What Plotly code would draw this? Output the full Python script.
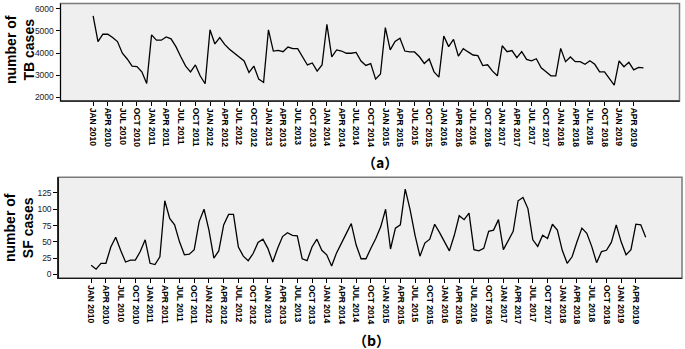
import plotly.graph_objects as go

W, H = 685, 349

# ---------------- data ----------------
month_names = ["JAN", "FEB", "MAR", "APR", "MAY", "JUN", "JUL", "AUG", "SEP", "OCT", "NOV", "DEC"]
years = list(range(2010, 2020))
months = [f"{m} {y}" for y in years for m in month_names][:114]   # Jan 2010 .. Jun 2019

tb_cases = [5680, 4520, 4850, 4850, 4700, 4520, 3990, 3730, 3410, 3390, 3150, 2620,
            4820, 4580, 4580, 4730, 4640, 4290, 3830, 3410, 3150, 3460, 2960, 2610,
            5050, 4410, 4700, 4390, 4170, 3990, 3830, 3640, 3120, 3410, 2820, 2670,
            5050, 4090, 4120, 4060, 4270, 4200, 4200, 3830, 3460, 3550, 3180, 3460,
            5300, 3830, 4140, 4090, 3990, 3990, 4030, 3640, 3440, 3520, 2820, 3050,
            5150, 4140, 4520, 4670, 4090, 4050, 4050, 3830, 3530, 3730, 3150, 2910,
            4770, 4290, 4620, 3860, 4200, 4050, 3910, 3880, 3430, 3470, 3180, 2970,
            4330, 4060, 4110, 3790, 4060, 3710, 3650, 3740, 3330, 3150, 2970, 2970,
            4210, 3610, 3820, 3610, 3610, 3490, 3650, 3490, 3150, 3150, 2850, 2550,
            3640, 3380, 3580, 3240, 3350, 3330]

sf_cases = [14, 8, 17, 17, 42, 57, 37, 19, 22, 22, 35, 53,
            17, 15, 27, 113, 86, 76, 50, 30, 31, 38, 81, 100,
            68, 25, 36, 76, 92, 92, 42, 28, 21, 32, 49, 54,
            40, 19, 40, 58, 64, 60, 59, 24, 21, 42, 54, 37,
            30, 13, 33, 49, 63, 78, 45, 24, 24, 40, 55, 73,
            100, 39, 71, 76, 131, 99, 60, 28, 48, 54, 77, 64,
            50, 36, 60, 90, 84, 94, 38, 36, 40, 66, 68, 84,
            38, 53, 66, 113, 118, 101, 53, 43, 60, 55, 77, 68,
            37, 17, 27, 50, 71, 63, 43, 18, 35, 37, 49, 76,
            50, 30, 38, 77, 76, 57]

tick_labels = months[::3]                      # JAN 2010, APR 2010, ... APR 2019
tb_ticks = [2000, 3000, 4000, 5000, 6000]
sf_ticks = [0, 25, 50, 75, 100, 125]

idx = list(range(len(months)))
tick_idx = idx[::3]

# ---------------- figure ----------------
def px_x(p):
    return p / W

def px_y(p):
    return 1 - p / H

fig = go.Figure()
fig.add_trace(go.Scatter(x=idx, y=tb_cases, mode="lines", text=months,
                         line=dict(color="black", width=1.3),
                         xaxis="x", yaxis="y", showlegend=False))
fig.add_trace(go.Scatter(x=idx, y=sf_cases, mode="lines", text=months,
                         line=dict(color="black", width=1.3),
                         xaxis="x2", yaxis="y2", showlegend=False))

xcommon = dict(range=[-6.7, 120.4], tickmode="array", tickvals=tick_idx, ticktext=tick_labels,
               tickangle=90, ticks="outside", ticklen=4, tickcolor="black", tickwidth=1,
               tickfont=dict(family="Liberation Sans", size=8.5, color="black", weight="bold"),
               showgrid=False, zeroline=False, showline=True, linecolor="black", linewidth=1,
               automargin=False)
ycommon = dict(ticks="outside", ticklen=4, tickcolor="black", tickwidth=1,
               tickfont=dict(family="Liberation Sans", size=8.5, color="#222"),
               showgrid=False, zeroline=False, showline=True, linecolor="black", linewidth=1,
               automargin=False)

fig.update_layout(
    width=W, height=H,
    margin=dict(l=0, r=0, t=0, b=0, autoexpand=False),
    paper_bgcolor="white",
    plot_bgcolor="#efefef",
    xaxis=dict(domain=[px_x(60.5), px_x(679.5)], anchor="y", **xcommon),
    yaxis=dict(domain=[px_y(101), px_y(3.5)], anchor="x", range=[1830, 6240],
               tickvals=tb_ticks, **ycommon),
    xaxis2=dict(domain=[px_x(58.3), px_x(682)], anchor="y2", **xcommon),
    yaxis2=dict(domain=[px_y(278.3), px_y(177.3)], anchor="x2", range=[-6, 149],
                tickvals=sf_ticks, **ycommon),
)

# gray frame (top/right) around each plot area
for xr, yr in (("x", "y"), ("x2", "y2")):
    fig.add_shape(type="rect", xref=f"{xr} domain", yref=f"{yr} domain",
                  x0=0, x1=1, y0=0, y1=1, line=dict(color="#7a7a7a", width=1.5),
                  layer="above")
# redraw black left/bottom axis lines on top of frame
for xr, yr in (("x", "y"), ("x2", "y2")):
    fig.add_shape(type="line", xref=f"{xr} domain", yref=f"{yr} domain",
                  x0=0, x1=0, y0=0, y1=1, line=dict(color="black", width=1), layer="above")
    fig.add_shape(type="line", xref=f"{xr} domain", yref=f"{yr} domain",
                  x0=0, x1=1, y0=0, y1=0, line=dict(color="black", width=1), layer="above")

title_font = dict(family="Liberation Sans", size=14, color="black", weight="bold")
fig.add_annotation(text="number of<br>TB cases", textangle=-90, showarrow=False,
                   xref="paper", yref="paper", x=px_x(20), y=px_y(50),
                   xanchor="center", yanchor="middle", font=title_font)
fig.add_annotation(text="number of<br>SF cases", textangle=-90, showarrow=False,
                   xref="paper", yref="paper", x=px_x(19), y=px_y(228),
                   xanchor="center", yanchor="middle", font=title_font)

cap_font = dict(family="Noto Sans CJK SC", size=14, color="black", weight="bold")
fig.add_annotation(text="（a）", showarrow=False, xref="paper", yref="paper",
                   x=px_x(380), y=px_y(162), xanchor="center", yanchor="middle", font=cap_font)
fig.add_annotation(text="（b）", showarrow=False, xref="paper", yref="paper",
                   x=px_x(371), y=px_y(340), xanchor="center", yanchor="middle", font=cap_font)

fig.write_html("out.html", config={"displayModeBar": False},
               post_script="document.body.style.margin='0';document.body.style.overflow='hidden';")
